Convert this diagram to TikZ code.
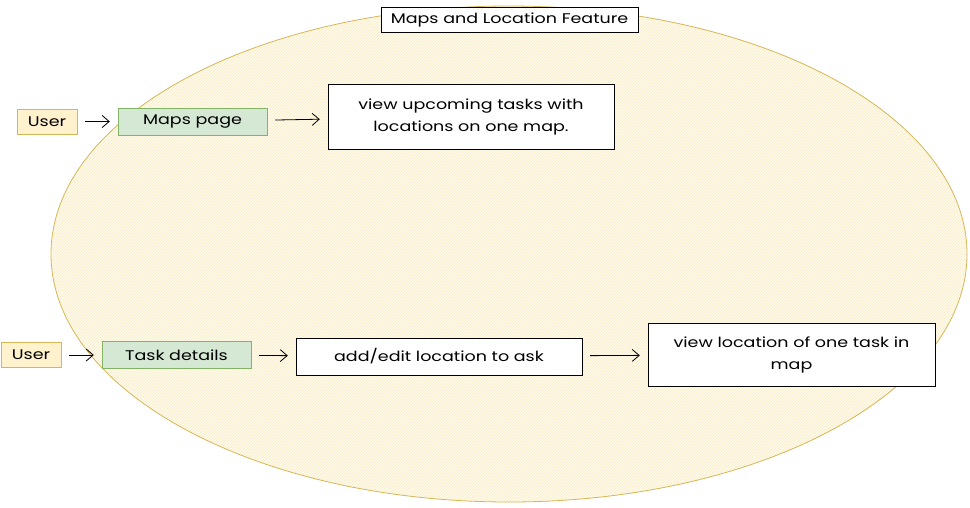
\documentclass[tikz,border=0pt]{standalone}
\usepackage{fontspec}
\setmainfont[FakeStretch=1.25]{Poppins}
\usetikzlibrary{arrows.meta,patterns,positioning}
\definecolor{noteyellow}{RGB}{255,242,204}
\definecolor{noteedge}{RGB}{214,182,86}
\definecolor{pagegreen}{RGB}{213,232,212}
\definecolor{pageedge}{RGB}{130,179,102}
\definecolor{hatch}{RGB}{250,236,190}
\tikzset{
  user/.style={draw=noteedge, fill=noteyellow, minimum width=60pt, minimum height=25pt, inner sep=0pt, font=\fontsize{14}{16}\selectfont},
  page/.style={draw=pageedge, fill=pagegreen, minimum width=149pt, minimum height=27pt, inner sep=0pt, font=\fontsize{14}{16}\selectfont},
  action/.style={draw=black, fill=white, inner sep=0pt, align=center, font=\fontsize{14}{22}\selectfont},
  flow/.style={-{Straight Barb[length=7pt,width=12pt]}, line width=0.8pt, shorten >=8pt, shorten <=8pt}
}
\begin{document}
\begin{tikzpicture}[x=1pt, y=-1pt]
		\useasboundingbox (0,0) rectangle (970,507);

		% FEATURE AREA
		\fill[fill=noteyellow!30] (509,254) ellipse (458 and 248);
		\fill[pattern=north east lines, pattern color=hatch] (509,254) ellipse (458 and 248);
		\draw[noteedge, line width=0.8pt] (509,254) ellipse (458 and 248);
		\node[draw=black, fill=white, line width=0.8pt, minimum width=257pt, minimum height=25pt, inner sep=0pt, font=\fontsize{14}{16}\selectfont] (title) at (509.5,19.5) {Maps and Location Feature};

		% MAPS PAGE ROW
		\node[user] (user1) at (47,121.5) {User};
		\node[page] (maps) at (192.5,121.5) {Maps page};
		\node[action, minimum width=286pt, minimum height=65pt] (upcoming) at (471,116.5) {view upcoming tasks with\\locations on one map.};

		% TASK DETAILS ROW
		\node[user] (user2) at (31,355) {User};
		\node[page] (details) at (176.5,355) {Task details};
		\node[action, minimum width=286pt, minimum height=37pt] (edit) at (439,356.5) {add/edit location to ask};
		\node[action, minimum width=287pt, minimum height=63pt] (single) at (791.5,354.5) {view location of one task in\\map};

		\draw[flow] (user1) -- (maps);
		\draw[flow] (maps) -- (upcoming);
		\draw[flow] (user2) -- (details);
		\draw[flow] (details) -- (edit);
		\draw[flow] (edit) -- (single);
	\end{tikzpicture}
\end{document}
